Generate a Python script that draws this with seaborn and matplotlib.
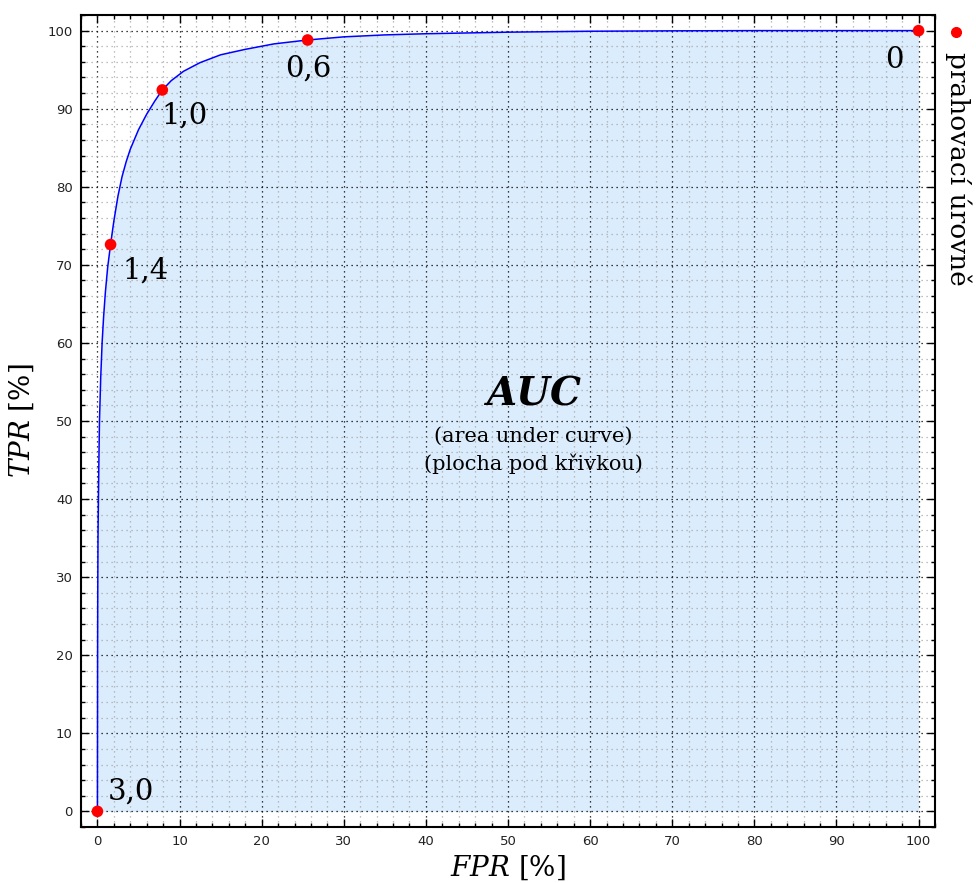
import matplotlib
matplotlib.use("Agg")
import matplotlib.pyplot as plt
from matplotlib.lines import Line2D
from matplotlib.ticker import MultipleLocator
import seaborn as sns
import pandas as pd

# ROC curve (FPR %, TPR %)
curve_fpr = [0.0, 0.01, 0.02, 0.04, 0.07, 0.12, 0.18, 0.25, 0.4, 0.57, 0.75, 0.97, 1.25,
             1.6, 2.0, 2.5, 3.0, 3.5, 4.0, 5.0, 6.0, 7.0, 7.9, 9.0, 10.5, 12.5, 15.0,
             18.0, 21.5, 25.6, 30.0, 35.0, 40.0, 50.0, 60.0, 70.0, 80.0, 100.0]
curve_tpr = [0.0, 10.0, 20.0, 28.0, 35.0, 40.0, 45.0, 50.0, 55.5, 60.0, 63.3, 66.5, 69.7,
             72.6, 75.6, 78.8, 81.3, 83.2, 84.8, 87.3, 89.3, 91.0, 92.4, 93.6, 94.8, 95.9, 96.9,
             97.6, 98.3, 98.8, 99.2, 99.45, 99.6, 99.8, 99.92, 99.97, 100.0, 100.0]

# threshold points
thr_fpr = [0.0, 1.6, 7.9, 25.6, 100.0]
thr_tpr = [0.0, 72.6, 92.4, 98.8, 100.0]
thr_labels = ["3,0", "1,4", "1,0", "0,6", "0"]
label_offsets = [(10, 12), (12, -34), (-1, -34), (-23, -37), (-33, -37)]

ticks = list(range(0, 101, 10))

sns.set_style("white")
plt.rcParams["font.family"] = ["DejaVu Sans"]
plt.rcParams["mathtext.fontset"] = "dejavuserif"
plt.rcParams["text.color"] = "black"

fig = plt.figure(figsize=(9.76, 8.83), dpi=100)
ax = fig.add_axes([81 / 976, 1 - 827 / 883, (935 - 81) / 976, (827 - 15) / 883])

curve = pd.DataFrame({"FPR": curve_fpr, "TPR": curve_tpr})
pts = pd.DataFrame({"FPR": thr_fpr, "TPR": thr_tpr})

ax.fill_between(curve["FPR"], 0, curve["TPR"], color="#dbecfc", lw=0, zorder=0)
sns.lineplot(data=curve, x="FPR", y="TPR", ax=ax, color="#0000ff", lw=1.1,
             sort=False, estimator=None, zorder=3)
sns.scatterplot(data=pts, x="FPR", y="TPR", ax=ax, color="#ff0000", s=70,
                edgecolor="none", zorder=4, clip_on=False)

for fx, ty, lab, off in zip(thr_fpr, thr_tpr, thr_labels, label_offsets):
    ax.annotate(lab, (fx, ty), xytext=off, textcoords="offset pixels", color="black",
                ha="left", va="baseline", fontsize=21, family="DejaVu Serif")

ax.text(53.1, 53.4, "AUC", ha="center", va="center", fontsize=28, color="black",
        family="DejaVu Serif", style="italic", weight="bold")
ax.text(53.1, 48.0, "(area under curve)", ha="center", va="center", color="black",
        fontsize=15, family="DejaVu Serif")
ax.text(53.1, 44.5, "(plocha pod křivkou)", ha="center", va="center", color="black",
        fontsize=15, family="DejaVu Serif")

ax.set_xlim(-2, 102)
ax.set_ylim(-2, 102)
ax.set_xticks(ticks)
ax.set_yticks(ticks)
ax.xaxis.set_minor_locator(MultipleLocator(2))
ax.yaxis.set_minor_locator(MultipleLocator(2))
ax.grid(which="major", color="black", linestyle=(0, (1, 3)), lw=0.9)
ax.grid(which="minor", color="#aaaaaa", linestyle=(0, (1, 3)), lw=0.9)
ax.tick_params(which="both", direction="in", top=True, right=True, bottom=True, left=True,
               colors="black", labelcolor="#222222")
ax.tick_params(which="major", length=6, width=1, labelsize=9.5, pad=6)
ax.tick_params(which="minor", length=3, width=1)
for sp in ax.spines.values():
    sp.set_color("black")
    sp.set_linewidth(1.5)

ax.set_xlabel(r"$\mathit{FPR}$ [%]", fontsize=20, family="DejaVu Serif", labelpad=4,
              color="black")
ax.set_ylabel(r"$\mathit{TPR}$ [%]", fontsize=20, family="DejaVu Serif", labelpad=8,
              color="black")

# legend (rotated, outside right)
fig.add_artist(Line2D([956 / 976], [1 - 32 / 883], transform=fig.transFigure,
                      marker="o", color="#ff0000", markersize=7, linestyle="none"))
fig.text(958 / 976, 1 - 52 / 883, "prahovací úrovně", rotation=270, ha="center", va="top",
         fontsize=19, family="DejaVu Serif", color="black")

fig.savefig("out.png", dpi=100)
